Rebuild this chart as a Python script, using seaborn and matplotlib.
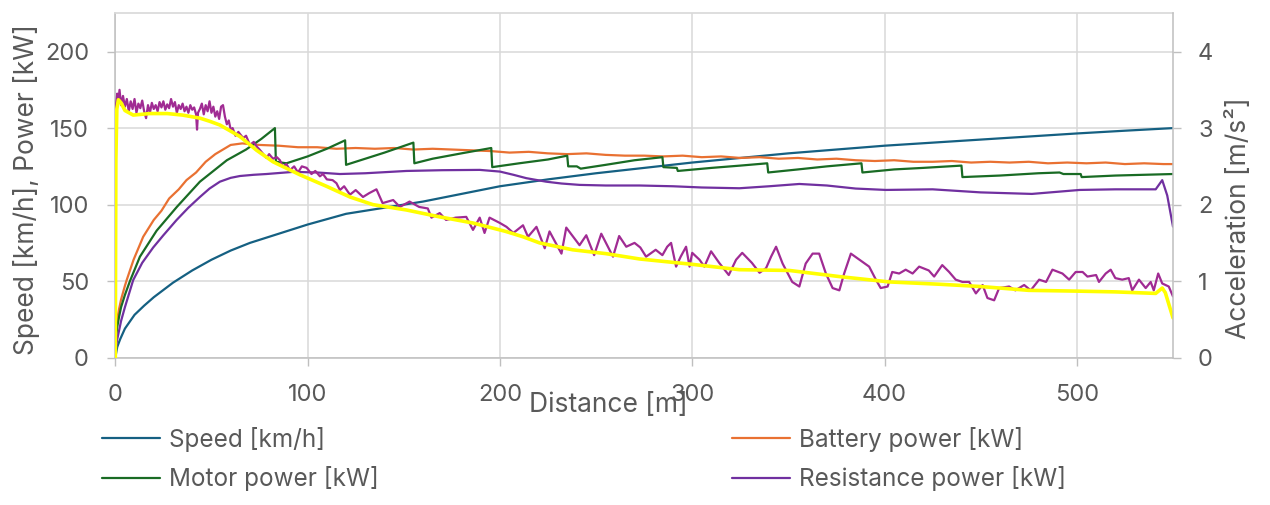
import numpy as np
import pandas as pd
import matplotlib
matplotlib.use("Agg")
import matplotlib.pyplot as plt
import seaborn as sns

# speed [km/h] vs distance [m]
speed_x = [0, 1, 2.5, 5, 10, 15, 20, 30, 40, 50, 60, 70, 80, 90, 100, 120, 140, 160, 180, 200,
           225, 250, 275, 300, 325, 350, 375, 400, 425, 450, 475, 500, 525, 550]
speed = [0, 7, 12, 19, 28, 34, 39.5, 49, 57, 64, 70, 75, 79, 83, 87, 94, 98, 102, 107, 112,
         116.5, 120.5, 124, 127.5, 130.5, 133.5, 136, 138.5, 140.5, 142.5, 144.5, 146.5, 148.3, 150]

# battery power [kW]
battery_x = [0, 0.5, 1, 2, 3, 5, 6, 9.5, 14.5, 20, 24, 28, 33, 37, 42, 47, 52, 56, 60, 66, 75, 85,
             95, 105, 115, 125, 135, 145, 155, 165, 175, 185, 195, 205, 215, 225, 235, 245, 255,
             265, 275, 285, 295, 305, 315, 325, 335, 345, 355, 365, 375, 385, 395, 405, 415, 425,
             435, 445, 455, 465, 475, 485, 495, 505, 515, 525, 535, 545, 550]
battery = [8, 18, 25, 32, 38, 47, 51, 64, 79, 90, 96, 104, 110, 116, 121, 128, 133, 136, 139, 140,
           139, 138.5, 137.5, 137.5, 136.5, 137, 136.5, 137, 136, 136.5, 136, 135.5, 135, 134,
           134.5, 133.5, 133, 133.5, 132.5, 132, 132, 131.5, 132, 131, 131.5, 130.5, 131, 130,
           130.5, 129.5, 130, 129, 128.5, 129, 128, 128, 128.5, 127.5, 128, 127.5, 128, 127,
           127.5, 127, 127.5, 126.5, 127, 126.5, 126.5]

# motor power [kW]
motor_x = [0, 0.5, 1, 2, 3, 5, 7.6, 12.8, 21.5, 32, 44, 58, 68, 76, 83, 83.5, 89, 100, 110, 119.5,
           120, 130, 140, 155, 155.5, 165, 180, 195.5, 196, 210, 225, 235, 235.5, 240, 242, 255,
           270, 284.5, 285, 292, 292.5, 310, 325, 339, 339.5, 355, 370, 388, 388.5, 405, 420,
           440, 440.5, 460, 480, 491, 493, 502, 502.5, 520, 535, 550]
motor = [5, 14, 20, 27, 33, 41, 50, 66, 83, 98.5, 115, 129, 136, 143, 150, 128, 127, 131.5, 136.5,
         142, 126, 130, 134, 140.5, 127, 130, 133.5, 137, 124.5, 127, 129.5, 132, 125, 125, 123.5,
         126, 129, 131, 124.5, 124, 122, 124, 125.5, 127, 121, 123, 125, 127, 121, 123, 124,
         125.5, 118, 119, 120.5, 121, 120, 120, 118, 119, 119.5, 120]

# resistance power [kW]
resist_x = [0, 1, 3, 5, 9.3, 14, 19.7, 25, 31.9, 38, 44, 49, 54.4, 60, 64.8, 72, 78.6, 92.5, 105,
            116.8, 130, 151.4, 170, 189.5, 200, 207, 213.7, 224, 232, 241.4, 255, 272.6, 290,
            305, 324.5, 340, 355.7, 370, 385, 400.7, 425, 450, 476.6, 501.5, 520, 541, 544.4,
            547, 550]
resist = [3, 12, 24, 33, 50.7, 62, 72, 80, 90, 98, 105, 110.5, 115, 117.5, 118.7, 119.5, 120,
          121.4, 121, 120, 120.5, 122, 122.5, 122.7, 121.6, 119.5, 117.3, 115, 113.8, 112.9,
          112.5, 112.5, 112, 111.2, 110.7, 112, 113.5, 112.5, 110.5, 109.6, 110, 108, 107,
          109.6, 110, 110, 116, 106, 85.6]

# acceleration [m/s2], smoothed (yellow)
acc_x = [0, 0.3, 0.8, 1.6, 3, 5, 9.3, 18, 27, 35, 44, 49, 54.4, 60, 64.8, 73.5, 82, 96, 109.8,
         122, 134, 151.4, 168.7, 186, 203, 212, 220.6, 237.8, 255, 272.6, 300, 324.5, 350.5,
         376.5, 402.5, 428.5, 450, 475, 500, 520, 541, 544.4, 546, 550]
acc = [0, 2.6, 3.25, 3.37, 3.33, 3.23, 3.17, 3.19, 3.19, 3.17, 3.13, 3.09, 3.04, 2.96, 2.89,
       2.71, 2.56, 2.39, 2.24, 2.10, 2.0, 1.93, 1.84, 1.76, 1.65, 1.58, 1.50, 1.41, 1.36, 1.29,
       1.22, 1.15, 1.14, 1.06, 0.99, 0.96, 0.93, 0.88, 0.87, 0.86, 0.84, 0.91, 0.85, 0.52]

# acceleration [m/s2], raw (magenta)
raw_x = [0, 0.4, 1, 1.6, 2.2, 3, 4, 5, 6, 7, 8, 9, 10, 11, 12, 13, 14, 15, 16, 17, 18, 19, 20,
         21, 22, 23, 24, 25, 26, 27, 28, 29, 30, 31, 32, 33, 34, 35, 36, 37, 38, 39, 40, 41, 42,
         42.5, 43, 44, 45, 46, 47, 48, 49, 50, 51, 52, 53, 54, 55, 56, 57, 58, 59, 60,
         61, 62.5, 64, 66.5, 68, 70, 72, 73.5, 75, 77, 78.6, 80, 82, 84, 85.6, 87, 89, 90.8, 93,
         95, 97, 99.5, 102, 104, 106.4, 108, 110, 113, 115, 116.8, 119, 122, 125, 128.8, 132,
         135.8, 139, 144.5, 148, 153, 158, 162.5, 164.4, 168.7, 172, 177, 182.5, 186, 189.5,
         192, 194.6, 200, 203.4, 207, 212, 214.6, 219, 223.3, 225.8, 232, 234.5, 241.4, 244.9,
         249, 252.7, 258.8, 262, 265.7, 270, 273, 276, 281, 284.5, 287, 289, 291.6, 294, 296.8,
         298.6, 300, 303.8, 306.3, 309.8, 314, 319, 322.8, 326, 331, 335, 338.4, 341, 343.6,
         347, 352, 355.7, 359, 362.6, 366, 369.5, 373, 376.5, 379, 382.5, 387, 392, 395.5, 398,
         401.6, 404, 407.6, 411, 414.6, 418, 423, 425.8, 430, 433.6, 437, 440.5, 444, 447.5,
         451, 453.5, 457, 459.6, 464.8, 468, 472.6, 476, 480.4, 484, 487.3, 492.5, 496, 499.4,
         503, 505.5, 510, 511.5, 515, 517.6, 520, 523.6, 527, 528.8, 532.3, 535.8, 538.4, 540,
         542.3, 544.4, 547.8, 550]
raw = [0, 3.3, 3.45, 3.35, 3.5, 3.3, 3.42, 3.28, 3.38, 3.22, 3.35, 3.25, 3.38, 3.2, 3.32, 3.26,
       3.36, 3.22, 3.13, 3.3, 3.2, 3.33, 3.25, 3.3, 3.22, 3.34, 3.27, 3.35, 3.24, 3.31, 3.26,
       3.38, 3.28, 3.34, 3.2, 3.3, 3.25, 3.32, 3.22, 3.28, 3.2, 3.3, 3.24, 3.27, 3.18, 2.98, 3.2,
       3.25, 3.32, 3.18, 3.3, 3.22, 3.35, 3.2, 3.28, 3.15, 3.22, 3.12, 3.28, 3.3, 3.15, 3.05,
       3.1, 2.98,
       3.0, 2.9, 2.95, 2.87, 2.9, 2.78, 2.82, 2.76, 2.72, 2.66, 2.61, 2.66, 2.6, 2.62, 2.58,
       2.5, 2.53, 2.45, 2.5, 2.42, 2.5, 2.48, 2.4, 2.44, 2.37, 2.4, 2.33, 2.32, 2.28, 2.19,
       2.24, 2.13, 2.19, 2.10, 2.15, 2.20, 2.02, 2.06, 1.97, 2.04, 1.97, 1.95, 1.83, 1.89,
       1.80, 1.83, 1.84, 1.67, 1.83, 1.63, 1.83, 1.76, 1.71, 1.63, 1.73, 1.58, 1.71, 1.43,
       1.65, 1.36, 1.70, 1.47, 1.60, 1.34, 1.62, 1.32, 1.59, 1.45, 1.50, 1.44, 1.32, 1.41,
       1.34, 1.45, 1.50, 1.19, 1.32, 1.45, 1.19, 1.37, 1.28, 1.19, 1.39, 1.24, 1.08, 1.28,
       1.37, 1.24, 1.11, 1.17, 1.32, 1.45, 1.23, 0.99, 0.93, 1.23, 1.36, 1.36, 1.10, 0.91,
       0.88, 1.10, 1.36, 1.28, 1.19, 1.02, 0.91, 0.93, 1.12, 1.10, 1.15, 1.10, 1.19, 1.14,
       1.06, 1.21, 1.12, 1.02, 0.99, 0.99, 0.84, 0.95, 0.78, 0.75, 0.91, 0.93, 0.88, 0.95,
       0.88, 1.02, 0.99, 1.15, 1.10, 1.02, 1.12, 1.12, 1.06, 1.08, 0.99, 1.10, 1.15, 1.04,
       1.02, 1.04, 0.88, 1.02, 0.91, 0.99, 0.88, 1.10, 0.97, 0.93, 0.80]

sns.set_theme(style="white")
plt.rcParams["font.family"] = ["Inter", "DejaVu Sans"]
txt = "#595959"
fs = 17

fig = plt.figure(figsize=(12.7, 5.05), dpi=100)
ax = fig.add_axes([115.3 / 1270, 1 - 357.7 / 505, 1057.7 / 1270, 344.4 / 505])
ax2 = ax.twinx()

lw = 1.6
sns.lineplot(x=speed_x, y=speed, ax=ax, color="#156082", lw=lw, label="Speed [km/h]",
             estimator=None, sort=False)
sns.lineplot(x=battery_x, y=battery, ax=ax, color="#E97132", lw=lw, label="Battery power [kW]",
             estimator=None, sort=False)
sns.lineplot(x=motor_x, y=motor, ax=ax, color="#196B24", lw=lw, label="Motor power [kW]",
             estimator=None, sort=False)
sns.lineplot(x=resist_x, y=resist, ax=ax, color="#7030A0", lw=lw, label="Resistance power [kW]",
             estimator=None, sort=False)
sns.lineplot(x=raw_x, y=raw, ax=ax2, color="#A02B93", lw=lw, estimator=None, sort=False)
sns.lineplot(x=acc_x, y=acc, ax=ax2, color="#FFFF00", lw=2.6, estimator=None, sort=False)

handles, labels = ax.get_legend_handles_labels()
ax.get_legend().remove()
if ax2.get_legend() is not None:
    ax2.get_legend().remove()

ax.set_xlim(0, 550)
ax.set_ylim(0, 225)
ax2.set_ylim(0, 4.5)
ax.set_xticks([0, 100, 200, 300, 400, 500])
ax.set_yticks([0, 50, 100, 150, 200])
ax2.set_yticks([0, 1, 2, 3, 4])

ax.grid(True, color="#D9D9D9", lw=1.1)
ax.set_axisbelow(True)
for s in ["left", "bottom"]:
    ax.spines[s].set_color("#BFBFBF")
    ax.spines[s].set_linewidth(1.1)
ax.spines["top"].set_color("#D9D9D9")
ax.spines["right"].set_visible(False)
for s in ["left", "top", "bottom"]:
    ax2.spines[s].set_visible(False)
ax2.spines["right"].set_color("#BFBFBF")
ax2.spines["right"].set_linewidth(1.1)

ax.tick_params(axis="x", direction="out", length=6, width=1, color="#BFBFBF",
               labelcolor=txt, labelsize=fs, pad=13, bottom=True)
ax.tick_params(axis="y", direction="out", length=6, width=1, color="#BFBFBF",
               labelcolor=txt, labelsize=fs, pad=13, left=True)
ax2.tick_params(axis="y", direction="out", length=6, width=1, color="#BFBFBF",
                labelcolor=txt, labelsize=fs, pad=12, right=True)

ax.set_xlabel("Distance [m]", fontsize=19, color=txt)
ax.xaxis.set_label_coords(0.466, -0.1)
ax.set_ylabel("Speed [km/h], Power [kW]", fontsize=19, color=txt)
ax.yaxis.set_label_coords(-0.071, 0.487)
ax2.set_ylabel("Acceleration [m/s²]", fontsize=19, color=txt, rotation=90)
ax2.yaxis.set_label_coords(1.05, 0.405)

leg_kw = dict(frameon=False, fontsize=17.5, labelcolor=txt, handlelength=2.4, handletextpad=0.35,
              labelspacing=0.58, borderpad=0, borderaxespad=0, loc="upper left")
l1 = fig.legend([handles[0], handles[2]], [labels[0], labels[2]],
                bbox_to_anchor=(102 / 1270, 1 - 427 / 505), **leg_kw)
l2 = fig.legend([handles[1], handles[3]], [labels[1], labels[3]],
                bbox_to_anchor=(732 / 1270, 1 - 427 / 505), **leg_kw)

fig.savefig("out.png", dpi=100)
